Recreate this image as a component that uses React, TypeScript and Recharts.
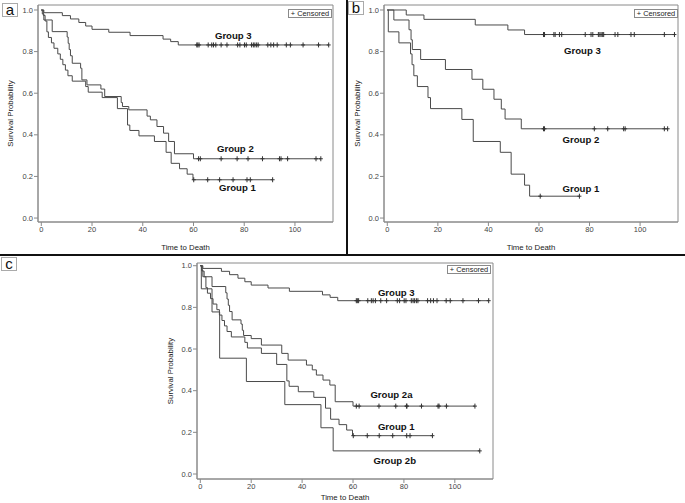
import React from 'react';
import { ComposedChart, Line, Scatter, XAxis, YAxis, ReferenceArea, ReferenceDot } from 'recharts';

type Pt = { t: number; s: number };

const timeTicks = [0, 20, 40, 60, 80, 100];
const survTicks = [0, 0.2, 0.4, 0.6, 0.8, 1.0];

// panels a and c share Group 3 and Group 1
const group3Curve: Pt[] = [
  { t: 0, s: 1 }, { t: 1, s: 0.987 }, { t: 8.3, s: 0.973 }, { t: 11.5, s: 0.957 },
  { t: 14.8, s: 0.94 }, { t: 17.5, s: 0.923 }, { t: 20, s: 0.907 }, { t: 26.6, s: 0.893 },
  { t: 35, s: 0.877 }, { t: 48, s: 0.86 }, { t: 51, s: 0.848 }, { t: 54, s: 0.832 },
  { t: 113.3, s: 0.832 },
];
const group3Censor = [61.3, 61.7, 62.2, 65.8, 67.2, 67.9, 68.8, 70.9, 73.2, 77.4, 78.3, 80.1, 80.8, 82.9,
  83.6, 84.2, 84.9, 85.5, 89.3, 90.5, 91.6, 93.0, 96.6, 98.2, 103.2, 109.3, 113.3];

const group1Curve: Pt[] = [
  { t: 0, s: 1 }, { t: 0.8, s: 0.974 }, { t: 1.5, s: 0.947 }, { t: 2.2, s: 0.895 },
  { t: 2.8, s: 0.868 }, { t: 4, s: 0.842 }, { t: 5, s: 0.816 }, { t: 6.5, s: 0.789 },
  { t: 7.5, s: 0.763 }, { t: 8.5, s: 0.737 }, { t: 9.5, s: 0.711 }, { t: 10.5, s: 0.684 },
  { t: 12.2, s: 0.658 }, { t: 17.5, s: 0.632 }, { t: 18.5, s: 0.605 }, { t: 24, s: 0.579 },
  { t: 30, s: 0.526 }, { t: 34, s: 0.447 }, { t: 34.9, s: 0.421 }, { t: 38.5, s: 0.395 },
  { t: 44.6, s: 0.368 }, { t: 49.2, s: 0.316 }, { t: 51.2, s: 0.263 }, { t: 54.5, s: 0.237 },
  { t: 57.5, s: 0.211 }, { t: 59.8, s: 0.184 }, { t: 91.2, s: 0.184 },
];
const group1Censor = [60.1, 65.6, 70.3, 75.6, 81.1, 82.4, 91.2];

// panel a only
const group2Curve: Pt[] = [
  { t: 0, s: 1 }, { t: 0.4, s: 0.981 }, { t: 1, s: 0.952 }, { t: 4.3, s: 0.896 },
  { t: 10.2, s: 0.87 }, { t: 10.6, s: 0.84 }, { t: 11, s: 0.81 }, { t: 11.5, s: 0.78 },
  { t: 12.2, s: 0.744 }, { t: 15.5, s: 0.72 }, { t: 16, s: 0.664 }, { t: 18, s: 0.64 },
  { t: 23.5, s: 0.62 }, { t: 25, s: 0.584 }, { t: 31.5, s: 0.555 }, { t: 32, s: 0.536 },
  { t: 34.5, s: 0.52 }, { t: 41.7, s: 0.49 }, { t: 43, s: 0.472 }, { t: 45.6, s: 0.44 },
  { t: 48.2, s: 0.408 }, { t: 50.2, s: 0.368 }, { t: 52.5, s: 0.309 }, { t: 60, s: 0.285 },
  { t: 110.2, s: 0.285 },
];
const group2Censor = [62.0, 62.7, 70.9, 77.2, 81.5, 87.2, 93.9, 94.5, 97.1, 108.3, 110.2];

// panel b
const b3Curve: Pt[] = [
  { t: 0, s: 1 }, { t: 7.5, s: 0.976 }, { t: 14.5, s: 0.955 }, { t: 34.8, s: 0.928 },
  { t: 47.7, s: 0.904 }, { t: 54.3, s: 0.882 }, { t: 113.6, s: 0.882 },
];
const b3Censor = [61.8, 62.2, 65.9, 66.4, 68.1, 69.0, 78.3, 80.6, 81.3, 83.5, 84.1, 84.6, 85.2, 85.6,
  90.1, 91.2, 96.4, 97.7, 109.6, 113.6];

const b2Curve: Pt[] = [
  { t: 0, s: 1 }, { t: 2.6, s: 0.952 }, { t: 8.6, s: 0.905 }, { t: 9.4, s: 0.857 },
  { t: 9.9, s: 0.81 }, { t: 13.2, s: 0.762 }, { t: 23, s: 0.714 }, { t: 33.5, s: 0.667 },
  { t: 37.8, s: 0.619 }, { t: 42.2, s: 0.571 }, { t: 45.1, s: 0.524 }, { t: 46.6, s: 0.476 },
  { t: 53, s: 0.429 }, { t: 110.9, s: 0.429 },
];
const b2Censor = [61.8, 62.2, 81.9, 87.2, 93.5, 94.1, 109.6, 110.9];

const b1Curve: Pt[] = [
  { t: 0, s: 1 }, { t: 0.4, s: 0.895 }, { t: 4.6, s: 0.842 }, { t: 9.2, s: 0.789 },
  { t: 9.8, s: 0.737 }, { t: 10.5, s: 0.684 }, { t: 11.9, s: 0.632 }, { t: 16.1, s: 0.579 },
  { t: 17.1, s: 0.526 }, { t: 29.5, s: 0.474 }, { t: 34, s: 0.368 }, { t: 44.7, s: 0.316 },
  { t: 49, s: 0.211 }, { t: 54.3, s: 0.158 }, { t: 56.3, s: 0.105 }, { t: 76, s: 0.105 },
];
const b1Censor = [60.5, 76];

// panel c splits Group 2
const g2aCurve: Pt[] = [
  { t: 0, s: 1 }, { t: 0.5, s: 0.977 }, { t: 1, s: 0.947 }, { t: 4.6, s: 0.9 },
  { t: 10, s: 0.87 }, { t: 10.5, s: 0.84 }, { t: 11, s: 0.81 }, { t: 11.5, s: 0.78 },
  { t: 12.5, s: 0.74 }, { t: 16, s: 0.72 }, { t: 16.5, s: 0.69 }, { t: 17, s: 0.665 },
  { t: 20, s: 0.65 }, { t: 24, s: 0.619 }, { t: 32, s: 0.579 }, { t: 34.5, s: 0.547 },
  { t: 41.7, s: 0.523 }, { t: 44, s: 0.5 }, { t: 45.6, s: 0.475 }, { t: 48.2, s: 0.451 },
  { t: 50.9, s: 0.427 }, { t: 53, s: 0.347 }, { t: 60, s: 0.326 }, { t: 107.9, s: 0.326 },
];
const g2aCensor = [61.3, 62.4, 70.2, 76.8, 81.0, 81.2, 86.9, 93.4, 93.8, 96.7, 107.9];

const g2bCurve: Pt[] = [
  { t: 0, s: 1 }, { t: 0.4, s: 0.889 }, { t: 4.6, s: 0.778 }, { t: 7.6, s: 0.556 },
  { t: 18.1, s: 0.444 }, { t: 33.2, s: 0.333 }, { t: 47.4, s: 0.222 }, { t: 52.2, s: 0.111 },
  { t: 109.8, s: 0.111 },
];
const g2bCensor = [109.8];

const FONT = '"Liberation Sans", Arial, sans-serif';
const xDomain: [number, number] = [-1.3, 115];

function levelAt(curve: Pt[], t: number) {
  let s = curve[0].s;
  for (const p of curve) if (p.t <= t) s = p.s;
  return s;
}

const Cross = (props: any) => {
  const { cx, cy } = props;
  return (
    <g stroke="#333" strokeWidth={1}>
      <line x1={cx} x2={cx} y1={cy - 2.5} y2={cy + 2.5} />
      <line x1={cx - 2} x2={cx + 2} y1={cy} y2={cy} />
    </g>
  );
};

type Series = { curve: Pt[]; censor: number[] };
type GroupLabel = { text: string; t: number; s: number };

function KMPanel(props: {
  left: number; top: number; width: number; height: number;
  margin: { top: number; right: number; bottom: number; left: number };
  yAxisWidth: number; xAxisHeight: number; xLabelOffset: number; yLabelOffset: number;
  yDomain: [number, number]; series: Series[]; labels: GroupLabel[];
}) {
  const { left, top, width, height, margin, yAxisWidth, xAxisHeight, yDomain, series, labels } = props;
  return (
    <div style={{ position: 'absolute', left, top, width, height }}>
      <ComposedChart width={width} height={height} margin={margin}>
        <XAxis
          type="number" dataKey="t" domain={xDomain} ticks={timeTicks} interval={0}
          allowDataOverflow height={xAxisHeight} stroke="#8a8a8a" tickSize={4} tickMargin={1}
          tick={{ fontSize: 7.5, fill: '#444', fontFamily: FONT }}
          label={{ value: 'Time to Death', position: 'insideBottom', offset: props.xLabelOffset, fontSize: 7.8, fill: '#222', fontFamily: FONT }}
        />
        <YAxis
          type="number" dataKey="s" domain={yDomain} ticks={survTicks} interval={0}
          allowDataOverflow width={yAxisWidth} stroke="#8a8a8a" tickSize={4} tickMargin={1}
          tickFormatter={(v: number) => v.toFixed(1)}
          tick={{ fontSize: 7.5, fill: '#444', fontFamily: FONT }}
          label={{ value: 'Survival Probability', angle: -90, position: 'insideLeft', offset: props.yLabelOffset, fontSize: 7.8, fill: '#222', fontFamily: FONT, style: { textAnchor: 'middle' } }}
        />
        <ReferenceArea x1={xDomain[0]} x2={xDomain[1]} y1={yDomain[0]} y2={yDomain[1]} fill="none" stroke="#8a8a8a" ifOverflow="visible" />
        {series.map((g, i) => (
          <Line key={`l${i}`} data={g.curve} dataKey="s" type="stepAfter" dot={false} stroke="#4a4a4a" strokeWidth={1} isAnimationActive={false} />
        ))}
        {series.map((g, i) => (
          <Scatter key={`c${i}`} data={g.censor.map((t) => ({ t, s: levelAt(g.curve, t) }))} shape={Cross} isAnimationActive={false} />
        ))}
        {labels.map((l) => (
          <ReferenceDot key={l.text} x={l.t} y={l.s} r={0} fill="none" stroke="none"
            label={{ value: l.text, position: 'center', fontSize: 9.6, fontWeight: 700, fill: '#111', fontFamily: FONT }} />
        ))}
      </ComposedChart>
    </div>
  );
}

function CensorLegend({ left, top }: { left: number; top: number }) {
  return (
    <div style={{
      position: 'absolute', left, top, width: 42, height: 7, border: '1px solid #8a8a8a',
      fontFamily: FONT, fontSize: 7.4, lineHeight: '7px', color: '#222', whiteSpace: 'nowrap', textAlign: 'center', background: '#fff',
    }}>
      + Censored
    </div>
  );
}

function PanelTag({ left, top, text }: { left: number; top: number; text: string }) {
  return (
    <div style={{
      position: 'absolute', left, top, width: 14, height: 12, border: '1px solid #aaa',
      fontFamily: FONT, fontSize: 15, lineHeight: '11px', color: '#111', textAlign: 'center',
    }}>
      {text}
    </div>
  );
}

export default function App() {
  return (
    <div style={{ position: 'absolute', left: 0, top: 0, width: 685, height: 503, background: '#fff', overflow: 'hidden' }}>
      <KMPanel
        left={0} top={0} width={347} height={255}
        margin={{ top: 5, right: 14, bottom: 3, left: 0 }}
        yAxisWidth={38} xAxisHeight={30} xLabelOffset={2} yLabelOffset={10}
        yDomain={[-0.019, 1.024]}
        series={[
          { curve: group3Curve, censor: group3Censor },
          { curve: group2Curve, censor: group2Censor },
          { curve: group1Curve, censor: group1Censor },
        ]}
        labels={[
          { text: 'Group 3', t: 75.7, s: 0.875 },
          { text: 'Group 2', t: 76.5, s: 0.332 },
          { text: 'Group 1', t: 77.3, s: 0.144 },
        ]}
      />
      <KMPanel
        left={347} top={0} width={338} height={255}
        margin={{ top: 5, right: 7, bottom: 3, left: 0 }}
        yAxisWidth={37} xAxisHeight={30} xLabelOffset={2} yLabelOffset={10}
        yDomain={[-0.019, 1.024]}
        series={[
          { curve: b3Curve, censor: b3Censor },
          { curve: b2Curve, censor: b2Censor },
          { curve: b1Curve, censor: b1Censor },
        ]}
        labels={[
          { text: 'Group 3', t: 77.2, s: 0.805 },
          { text: 'Group 2', t: 76.6, s: 0.377 },
          { text: 'Group 1', t: 76.6, s: 0.142 },
        ]}
      />
      <KMPanel
        left={160} top={255} width={345} height={248}
        margin={{ top: 8, right: 12, bottom: 0, left: 0 }}
        yAxisWidth={37} xAxisHeight={24} xLabelOffset={3} yLabelOffset={10}
        yDomain={[-0.024, 1.013]}
        series={[
          { curve: group3Curve, censor: group3Censor },
          { curve: g2aCurve, censor: g2aCensor },
          { curve: group1Curve, censor: group1Censor },
          { curve: g2bCurve, censor: g2bCensor },
        ]}
        labels={[
          { text: 'Group 3', t: 77.0, s: 0.871 },
          { text: 'Group 2a', t: 75.1, s: 0.379 },
          { text: 'Group 1', t: 77.0, s: 0.227 },
          { text: 'Group 2b', t: 76.4, s: 0.064 },
        ]}
      />
      <CensorLegend left={288} top={9} />
      <CensorLegend left={634} top={9} />
      <CensorLegend left={447} top={265} />
      <PanelTag left={2} top={3} text="a" />
      <PanelTag left={348} top={1} text="b" />
      <PanelTag left={1} top={257} text="c" />
      <div style={{ position: 'absolute', left: 0, top: 254, width: 685, height: 2, background: '#111' }} />
      <div style={{ position: 'absolute', left: 346, top: 0, width: 2, height: 255, background: '#111' }} />
    </div>
  );
}
